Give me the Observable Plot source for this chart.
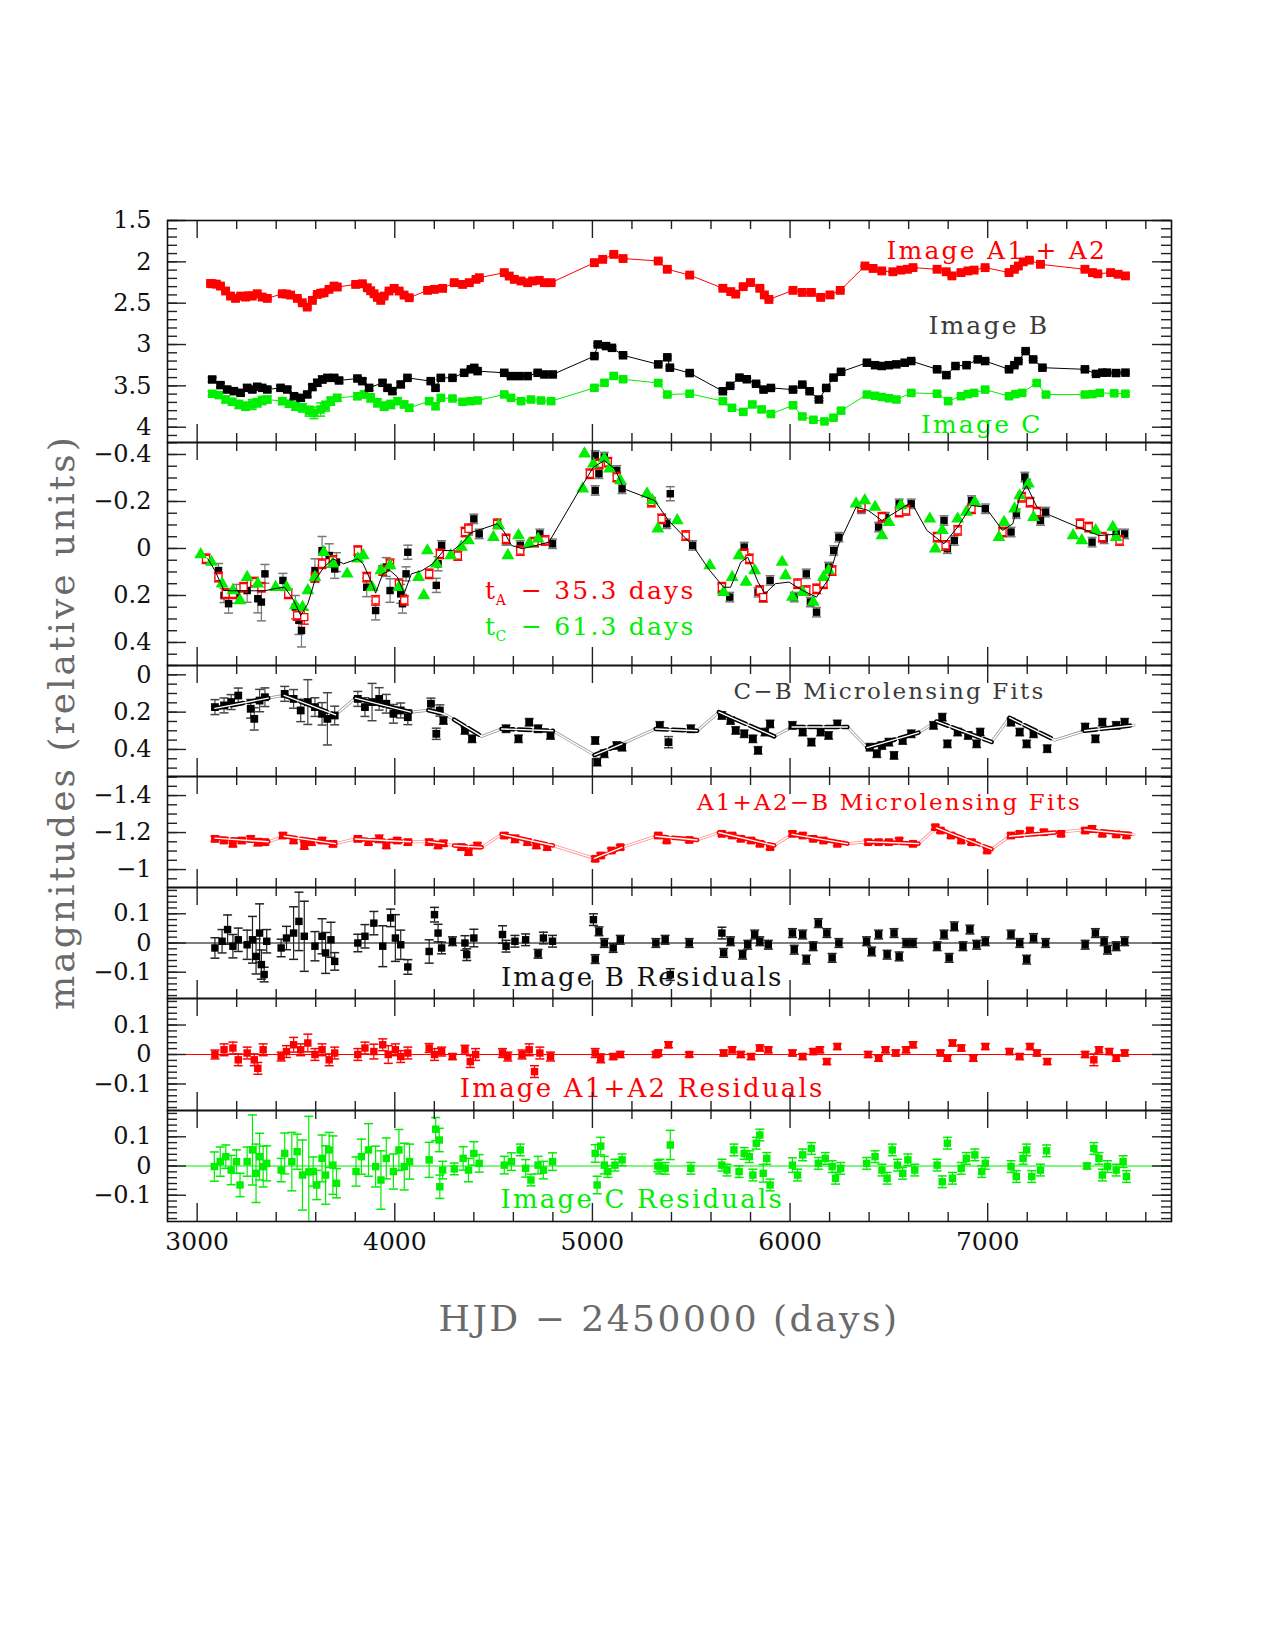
<!DOCTYPE html>
<html><head><meta charset="utf-8">
<script src="https://cdn.jsdelivr.net/npm/d3@7"></script>
<script src="https://cdn.jsdelivr.net/npm/@observablehq/plot@0.6"></script>
<style>
body{margin:0;background:#fff;}
#fig{position:relative;width:1275px;height:1650px;background:#fff;}
#fig svg{position:absolute;left:0;}
.title{position:absolute;font-family:"DejaVu Serif";color:#6a6a6a;white-space:nowrap;}
</style></head><body><div id="fig"></div>
<script>
// ---------------- DATA ----------------
const xMajorTicks = [3000, 4000, 5000, 6000, 7000];
const yTicks1 = [1.5, 2, 2.5, 3, 3.5, 4];
const yTicks2 = [-0.4, -0.2, 0, 0.2, 0.4];
const yTicks3 = [0, 0.2, 0.4];
const yTicks4 = [-1.4, -1.2, -1];
const yTicksRes = [-0.1, 0, 0.1];

// Panel 1: light curves [HJD-2450000, mag, err]
const imageA = [[3068,2.262,.012],[3076,2.265,.012],[3097,2.27,.012],[3118,2.293,.012],[3144,2.353,.012],[3169,2.414,.012],[3194,2.442,.012],[3220,2.414,.012],[3245,2.426,.012],[3262,2.41,.012],[3279,2.414,.012],[3304,2.386,.012],[3329,2.426,.012],[3355,2.442,.012],[3431,2.386,.012],[3452,2.39,.012],[3473,2.402,.012],[3507,2.442,.012],[3532,2.495,.012],[3557,2.547,.015],[3583,2.466,.012],[3608,2.394,.012],[3625,2.38,.012],[3642,2.374,.012],[3667,2.333,.012],[3693,2.293,.012],[3709,2.305,.012],[3802,2.273,.012],[3836,2.265,.012],[3861,2.313,.012],[3878,2.35,.012],[3895,2.386,.012],[3912,2.43,.012],[3929,2.466,.012],[3946,2.414,.012],[3971,2.353,.012],[3997,2.321,.012],[4022,2.353,.012],[4047,2.402,.012],[4073,2.434,.012],[4166,2.345,.012],[4200,2.333,.012],[4242,2.321,.012],[4301,2.252,.01],[4343,2.273,.01],[4377,2.252,.01],[4411,2.212,.01],[4428,2.192,.01],[4554,2.131,.01],[4579,2.172,.01],[4605,2.212,.01],[4639,2.232,.01],[4672,2.252,.01],[4697,2.232,.01],[4731,2.224,.01],[4757,2.252,.01],[4791,2.252,.01],[5010,2.01,.01],[5052,1.97,.01],[5108,1.91,.01],[5155,1.96,.01],[5333,1.99,.01],[5379,2.09,.01],[5492,2.16,.01],[5660,2.32,.01],[5700,2.36,.01],[5725,2.39,.01],[5763,2.3,.01],[5800,2.25,.01],[5847,2.32,.01],[5870,2.4,.01],[5893,2.455,.01],[6015,2.345,.01],[6062,2.37,.01],[6108,2.37,.01],[6155,2.43,.01],[6202,2.4,.01],[6254,2.345,.01],[6379,2.05,.01],[6420,2.08,.01],[6464,2.11,.01],[6520,2.12,.01],[6560,2.1,.01],[6594,2.09,.01],[6622,2.07,.01],[6744,2.09,.01],[6790,2.12,.01],[6819,2.17,.01],[6865,2.13,.01],[6900,2.11,.01],[6931,2.1,.01],[6987,2.07,.01],[7108,2.13,.01],[7135,2.09,.01],[7155,2.05,.01],[7180,2.0,.01],[7211,1.98,.01],[7267,2.03,.01],[7492,2.09,.01],[7530,2.13,.01],[7557,2.145,.01],[7622,2.13,.01],[7660,2.15,.01],[7697,2.17,.01]];
const imageB = [[3076,3.423,.025],[3118,3.491,.025],[3152,3.544,.025],[3186,3.564,.025],[3220,3.584,.03],[3253,3.524,.03],[3279,3.544,.03],[3304,3.511,.03],[3329,3.524,.03],[3355,3.544,.025],[3422,3.524,.025],[3456,3.544,.025],[3490,3.625,.03],[3524,3.645,.03],[3557,3.604,.03],[3583,3.515,.03],[3608,3.463,.04],[3633,3.423,.04],[3659,3.403,.03],[3693,3.403,.03],[3718,3.435,.025],[3811,3.411,.025],[3836,3.443,.03],[3870,3.524,.03],[3938,3.463,.03],[3963,3.524,.025],[3988,3.564,.025],[4030,3.483,.025],[4064,3.403,.02],[4182,3.443,.02],[4206,3.524,.02],[4233,3.403,.02],[4292,3.403,.015],[4351,3.342,.015],[4385,3.3,.015],[4402,3.282,.015],[4419,3.322,.015],[4554,3.342,.015],[4588,3.382,.015],[4630,3.382,.015],[4672,3.382,.015],[4723,3.342,.015],[4757,3.362,.015],[4799,3.362,.015],[5010,3.14,.015],[5027,2.999,.015],[5069,3.019,.015],[5099,3.04,.015],[5155,3.13,.015],[5333,3.24,.015],[5379,3.155,.015],[5392,3.28,.015],[5492,3.345,.015],[5660,3.565,.015],[5697,3.5,.015],[5744,3.4,.015],[5781,3.42,.015],[5828,3.475,.015],[5866,3.545,.015],[5903,3.525,.015],[6015,3.545,.015],[6062,3.485,.015],[6099,3.565,.015],[6146,3.665,.015],[6183,3.525,.015],[6220,3.4,.015],[6258,3.33,.015],[6389,3.22,.015],[6430,3.25,.015],[6464,3.26,.015],[6500,3.25,.015],[6538,3.24,.015],[6580,3.22,.015],[6613,3.2,.015],[6744,3.3,.015],[6791,3.37,.015],[6837,3.26,.015],[6893,3.25,.015],[6950,3.18,.015],[6987,3.2,.015],[7108,3.3,.015],[7135,3.25,.015],[7155,3.2,.015],[7192,3.08,.015],[7230,3.18,.015],[7277,3.28,.015],[7492,3.3,.015],[7548,3.355,.015],[7580,3.34,.015],[7604,3.34,.015],[7650,3.345,.015],[7697,3.34,.015]];
const imageC = [[3076,3.596,.03],[3110,3.612,.03],[3144,3.665,.04],[3177,3.693,.04],[3211,3.725,.05],[3245,3.746,.05],[3279,3.725,.06],[3304,3.705,.05],[3329,3.677,.05],[3355,3.665,.04],[3431,3.685,.04],[3465,3.717,.04],[3498,3.746,.05],[3532,3.766,.05],[3566,3.806,.06],[3591,3.826,.07],[3625,3.786,.08],[3650,3.746,.06],[3676,3.685,.05],[3709,3.645,.04],[3811,3.625,.04],[3845,3.604,.04],[3878,3.645,.05],[3912,3.705,.05],[3946,3.746,.05],[3980,3.725,.05],[4014,3.685,.04],[4047,3.725,.04],[4073,3.766,.04],[4174,3.685,.03],[4206,3.746,.04],[4233,3.645,.03],[4292,3.653,.02],[4343,3.693,.02],[4385,3.685,.02],[4419,3.677,.02],[4554,3.604,.02],[4588,3.645,.02],[4639,3.685,.02],[4689,3.665,.02],[4740,3.677,.02],[4791,3.685,.02],[5010,3.524,.02],[5061,3.463,.02],[5108,3.38,.02],[5155,3.42,.02],[5333,3.465,.02],[5379,3.605,.02],[5492,3.595,.02],[5660,3.685,.02],[5706,3.765,.02],[5763,3.815,.02],[5809,3.725,.02],[5856,3.785,.02],[5903,3.84,.02],[6015,3.735,.02],[6062,3.87,.02],[6118,3.91,.02],[6174,3.93,.02],[6220,3.885,.02],[6258,3.8,.02],[6389,3.605,.02],[6430,3.62,.02],[6464,3.635,.02],[6500,3.65,.02],[6538,3.665,.02],[6613,3.585,.02],[6744,3.595,.02],[6800,3.685,.02],[6865,3.625,.02],[6900,3.6,.02],[6931,3.585,.02],[6987,3.545,.02],[7108,3.625,.02],[7140,3.6,.02],[7174,3.585,.02],[7248,3.465,.02],[7295,3.605,.02],[7492,3.605,.02],[7530,3.6,.02],[7567,3.585,.02],[7640,3.59,.02],[7697,3.595,.02]];

// Panel 2: shifted, microlensing-corrected curves [day, relative mag, err]
const shiftB = [[3108,0.094,.03],[3136,0.2,.03],[3159,0.235,.04],[3199,0.193,.04],[3253,0.179,.05],[3307,0.214,.06],[3325,0.228,.08],[3343,0.108,.04],[3434,0.136,.03],[3497,0.25,.05],[3515,0.306,.06],[3528,0.349,.07],[3596,0.094,.05],[3632,0.009,.06],[3668,0.03,.05],[3696,0.087,.04],[3705,0.058,.04],[3813,0.023,.03],[3858,0.165,.04],[3903,0.264,.04],[3957,0.079,.04],[3976,0.179,.05],[4030,0.193,.04],[4039,0.235,.04],[4057,0.108,.03],[4066,0.016,.03],[4210,0.157,.03],[4219,0.065,.03],[4237,-0.013,.02],[4373,-0.077,.02],[4400,-0.126,.02],[4427,-0.062,.02],[4563,-0.034,.02],[4635,-0.013,.02],[4734,-0.062,.02],[4798,-0.02,.02],[5014,-0.396,.02],[5033,-0.318,.02],[5014,-0.247,.02],[5060,-0.389,.02],[5123,-0.332,.02],[5150,-0.254,.02],[5376,-0.105,.02],[5394,-0.233,.03],[5507,-0.013,.02],[5655,0.172,.02],[5695,0.207,.02],[5768,-0.006,.02],[5838,0.186,.02],[5864,0.207,.02],[5899,0.136,.02],[6021,0.207,.02],[6082,0.108,.02],[6103,0.228,.02],[6134,0.271,.02],[6195,0.079,.02],[6221,0.009,.02],[6247,-0.048,.02],[6361,-0.169,.02],[6448,-0.091,.02],[6483,-0.133,.02],[6552,-0.19,.02],[6613,-0.19,.02],[6779,-0.119,.02],[6796,0.001,.02],[6831,-0.034,.02],[6918,-0.204,.02],[6988,-0.169,.02],[7118,-0.07,.02],[7145,-0.148,.02],[7188,-0.304,.02],[7197,-0.275,.02],[7267,-0.119,.02],[7293,-0.155,.02],[7528,-0.027,.02],[7589,-0.041,.02],[7650,-0.062,.02],[7693,-0.062,.02]];
const shiftA = [[3045,0.044,.02],[3108,0.122,.02],[3145,0.193,.02],[3181,0.193,.02],[3235,0.165,.02],[3289,0.143,.02],[3325,0.165,.02],[3461,0.193,.02],[3506,0.285,.02],[3542,0.292,.03],[3596,0.122,.02],[3632,0.065,.02],[3687,0.051,.02],[3813,0.009,.02],[3858,0.122,.02],[3903,0.221,.02],[3939,0.094,.02],[3976,0.065,.02],[4021,0.15,.02],[4048,0.221,.02],[4174,0.108,.02],[4228,0.023,.02],[4319,0.03,.02],[4355,-0.07,.02],[4373,-0.084,.02],[4518,-0.105,.02],[4563,-0.041,.02],[4635,0.009,.02],[4707,-0.027,.02],[4761,-0.034,.02],[4987,-0.318,.02],[5033,-0.36,.02],[5078,-0.367,.02],[5123,-0.304,.02],[5298,-0.197,.02],[5350,-0.126,.02],[5472,-0.055,.02],[5655,0.165,.02],[5768,0.023,.02],[5794,0.044,.02],[5847,0.179,.02],[5864,0.207,.02],[6038,0.15,.02],[6082,0.179,.02],[6134,0.172,.02],[6169,0.15,.02],[6213,0.094,.02],[6361,-0.176,.02],[6465,-0.133,.02],[6552,-0.155,.02],[6587,-0.162,.02],[6744,-0.048,.02],[6787,-0.013,.02],[6848,-0.077,.02],[6918,-0.169,.02],[7075,-0.07,.02],[7171,-0.218,.02],[7214,-0.197,.02],[7249,-0.155,.02],[7467,-0.105,.02],[7511,-0.091,.02],[7580,-0.048,.02],[7667,-0.034,.02]];
const shiftC = [[3018,0.026],[3072,0.058],[3126,0.15],[3181,0.179],[3217,0.221],[3253,0.122],[3307,0.15],[3397,0.165],[3452,0.165],[3497,0.243],[3533,0.25],[3560,0.179],[3596,0.122],[3641,0.016],[3687,0.065],[3759,0.108],[3813,0.044],[3840,0.03],[3885,0.165],[3930,0.094],[3976,0.072],[4021,0.165],[4120,0.122],[4147,0.2],[4165,0.009],[4210,0.065],[4283,0.03],[4337,-0.006],[4373,-0.034],[4499,-0.048],[4526,-0.098],[4572,0.03],[4626,-0.055],[4680,-0.02],[4725,-0.041],[4960,-0.403],[4951,-0.254],[5005,-0.36],[5060,-0.382],[5087,-0.339],[5141,-0.289],[5276,-0.233],[5303,-0.204],[5331,-0.084],[5429,-0.119],[5594,0.072],[5664,0.186],[5707,0.122],[5742,0.03],[5777,0.143],[5821,0.094],[5960,0.058],[5977,0.115],[6012,0.207],[6064,0.186],[6117,0.228],[6169,0.122],[6195,0.094],[6334,-0.19],[6378,-0.204],[6430,-0.176],[6465,-0.055],[6500,-0.112],[6561,-0.183],[6707,-0.126],[6735,0.001],[6770,-0.077],[6848,-0.126],[6892,-0.155],[6935,-0.197],[7057,-0.048],[7083,-0.112],[7136,-0.169],[7162,-0.225],[7206,-0.275],[7232,-0.133],[7432,-0.055],[7476,-0.034],[7546,-0.077],[7633,-0.091],[7650,-0.048]];
const sourceModel = [[3054,0.044],[3090,0.094],[3136,0.179],[3172,0.18],[3235,0.18],[3289,0.18],[3343,0.18],[3397,0.17],[3443,0.165],[3488,0.22],[3524,0.285],[3560,0.235],[3596,0.136],[3641,0.08],[3687,0.044],[3741,0.065],[3813,0.044],[3840,0.065],[3885,0.15],[3903,0.19],[3939,0.108],[3976,0.094],[4012,0.12],[4048,0.19],[4084,0.108],[4138,0.094],[4192,0.065],[4247,0.009],[4292,0.009],[4337,-0.02],[4391,-0.07],[4445,-0.084],[4518,-0.105],[4554,-0.07],[4590,-0.013],[4644,0.001],[4716,-0.013],[4780,-0.027],[4933,-0.247],[5005,-0.346],[5060,-0.374],[5114,-0.339],[5159,-0.254],[5246,-0.226],[5315,-0.204],[5385,-0.119],[5507,-0.013],[5594,0.094],[5664,0.165],[5699,0.165],[5751,0.058],[5786,0.037],[5838,0.143],[5873,0.193],[5925,0.15],[5995,0.143],[6064,0.179],[6134,0.207],[6195,0.129],[6247,-0.02],[6334,-0.176],[6395,-0.162],[6465,-0.119],[6535,-0.155],[6613,-0.197],[6692,-0.077],[6779,-0.02],[6848,-0.091],[6918,-0.183],[6988,-0.176],[7075,-0.077],[7127,-0.105],[7162,-0.218],[7197,-0.268],[7249,-0.176],[7319,-0.14],[7476,-0.084],[7563,-0.055],[7667,-0.062]];

// Panel 3: C-B microlensing [day, mag, err] and season fits [day, mag, season]
const microCB = [[3090,0.173,.04],[3136,0.164,.04],[3172,0.146,.04],[3208,0.111,.04],[3271,0.182,.05],[3289,0.236,.06],[3316,0.138,.06],[3343,0.12,.05],[3443,0.102,.04],[3488,0.129,.05],[3524,0.191,.06],[3560,0.146,.12],[3596,0.173,.05],[3632,0.209,.06],[3659,0.236,.14],[3696,0.218,.05],[3813,0.129,.04],[3849,0.173,.05],[3885,0.146,.1],[3921,0.129,.06],[3957,0.155,.05],[3993,0.209,.05],[4030,0.191,.04],[4066,0.227,.04],[4183,0.155,.03],[4210,0.316,.03],[4228,0.191,.03],[4246,0.245,.02],[4355,0.298,.02],[4391,0.343,.02],[4563,0.289,.02],[4626,0.343,.02],[4680,0.254,.02],[4725,0.289,.02],[4788,0.325,.02],[5014,0.352,.02],[5024,0.468,.02],[5060,0.423,.02],[5123,0.379,.02],[5150,0.388,.02],[5341,0.271,.02],[5385,0.361,.03],[5498,0.289,.02],[5655,0.218,.02],[5699,0.245,.02],[5725,0.298,.02],[5768,0.316,.02],[5812,0.343,.02],[5838,0.405,.02],[5873,0.307,.02],[5899,0.263,.02],[6012,0.271,.02],[6064,0.307,.02],[6108,0.361,.02],[6155,0.307,.02],[6195,0.325,.02],[6239,0.263,.02],[6404,0.388,.02],[6439,0.423,.02],[6465,0.379,.02],[6500,0.361,.02],[6526,0.432,.02],[6570,0.352,.02],[6613,0.316,.02],[6726,0.271,.02],[6770,0.227,.02],[6796,0.37,.02],[6848,0.307,.02],[6901,0.325,.02],[6944,0.37,.02],[6962,0.307,.02],[7118,0.254,.02],[7162,0.307,.02],[7197,0.37,.02],[7232,0.316,.02],[7301,0.396,.02],[7493,0.28,.02],[7545,0.343,.02],[7580,0.254,.02],[7650,0.271,.02],[7693,0.254,.02]];
const fitCB = [[3090,0.18,1],[3360,0.125,1],[3440,0.11,2],[3700,0.215,2],[3800,0.125,3],[4080,0.2,3],[4170,0.19,4],[4250,0.21,4],[4300,0.24,5],[4440,0.33,5],[4540,0.29,6],[4800,0.3,6],[5010,0.43,7],[5150,0.37,7],[5320,0.29,8],[5530,0.3,8],[5640,0.2,9],[5920,0.33,9],[6010,0.28,10],[6290,0.28,10],[6390,0.39,11],[6650,0.31,11],[6740,0.25,12],[7020,0.36,12],[7110,0.23,13],[7340,0.35,13],[7490,0.3,14],[7740,0.27,14]];

// Panel 4: A1+A2-B microlensing
const microAB = [[3090,-1.166,.015],[3136,-1.157,.015],[3181,-1.139,.015],[3226,-1.157,.015],[3271,-1.166,.015],[3307,-1.148,.02],[3343,-1.148,.015],[3434,-1.184,.015],[3488,-1.157,.015],[3542,-1.13,.02],[3578,-1.148,.015],[3632,-1.157,.015],[3687,-1.139,.015],[3813,-1.166,.015],[3867,-1.148,.015],[3921,-1.166,.02],[3957,-1.13,.015],[4012,-1.157,.015],[4066,-1.148,.015],[4174,-1.148,.015],[4219,-1.13,.015],[4246,-1.142,.015],[4337,-1.121,.015],[4373,-1.094,.015],[4418,-1.13,.015],[4554,-1.184,.015],[4608,-1.166,.02],[4671,-1.148,.015],[4716,-1.13,.015],[4771,-1.121,.015],[5014,-1.058,.012],[5042,-1.076,.012],[5096,-1.103,.012],[5141,-1.121,.012],[5333,-1.184,.012],[5376,-1.157,.012],[5490,-1.16,.012],[5655,-1.193,.012],[5707,-1.184,.012],[5751,-1.166,.012],[5803,-1.157,.012],[5847,-1.139,.012],[5899,-1.121,.012],[6012,-1.193,.012],[6064,-1.184,.012],[6117,-1.166,.012],[6169,-1.157,.012],[6239,-1.139,.012],[6395,-1.148,.012],[6448,-1.148,.012],[6500,-1.148,.012],[6552,-1.157,.012],[6622,-1.139,.012],[6735,-1.229,.012],[6761,-1.211,.012],[6814,-1.184,.012],[6866,-1.157,.012],[6918,-1.148,.012],[6997,-1.103,.012],[7118,-1.184,.012],[7162,-1.193,.012],[7214,-1.211,.012],[7284,-1.202,.012],[7371,-1.193,.012],[7493,-1.211,.012],[7528,-1.22,.015],[7580,-1.193,.012],[7650,-1.19,.012],[7702,-1.184,.012]];
const fitAB = [[3090,-1.17,1],[3360,-1.15,1],[3440,-1.18,2],[3700,-1.14,2],[3800,-1.165,3],[4080,-1.15,3],[4170,-1.15,4],[4250,-1.14,4],[4300,-1.13,5],[4440,-1.12,5],[4540,-1.19,6],[4800,-1.13,6],[5010,-1.06,7],[5150,-1.12,7],[5320,-1.18,8],[5530,-1.16,8],[5640,-1.2,9],[5920,-1.13,9],[6010,-1.19,10],[6290,-1.14,10],[6390,-1.15,11],[6650,-1.14,11],[6740,-1.225,12],[7020,-1.11,12],[7110,-1.18,13],[7340,-1.2,13],[7490,-1.215,14],[7740,-1.19,14]];

// Panels 5-7: residuals [day, residual, err]
const residB = [[3090,-0.017,.035],[3126,0.006,.04],[3154,0.046,.05],[3181,-0.011,.04],[3208,0.011,.04],[3253,-0.006,.05],[3280,0.011,.08],[3298,-0.046,.06],[3316,0.034,.1],[3325,-0.074,.05],[3339,-0.108,.025],[3352,0.006,.04],[3425,-0.017,.03],[3452,0.017,.04],[3488,0.034,.09],[3515,0.074,.1],[3542,0.023,.12],[3596,-0.011,.05],[3632,0.023,.06],[3650,-0.034,.07],[3677,0.011,.06],[3696,-0.063,.03],[3813,0,.03],[3849,0.023,.04],[3894,0.068,.04],[3939,-0.011,.07],[3979,0.086,.03],[4003,0.017,.08],[4030,-0.006,.05],[4066,-0.082,.025],[4174,-0.029,.04],[4201,0.097,.025],[4219,0.034,.03],[4237,-0.017,.02],[4292,0.006,.015],[4355,0,.025],[4364,-0.04,.02],[4400,0.017,.03],[4545,0.029,.03],[4563,-0.011,.02],[4608,0.006,.02],[4662,0.011,.02],[4725,-0.037,.015],[4752,0.017,.02],[4798,0.006,.02],[5005,0.08,.02],[5033,0.04,.015],[5014,-0.055,.015],[5060,0,.015],[5105,-0.017,.015],[5141,0.011,.015],[5321,0,.015],[5368,0.011,.015],[5394,-0.108,.02],[5490,0,.015],[5655,0.034,.02],[5664,-0.034,.015],[5699,0.006,.015],[5760,-0.04,.015],[5786,-0.006,.015],[5821,0.029,.015],[5847,0.006,.015],[5890,-0.006,.015],[6012,0.034,.015],[6021,-0.023,.015],[6064,0.029,.015],[6082,-0.057,.015],[6117,-0.011,.015],[6143,0.068,.015],[6186,0.034,.015],[6213,-0.051,.015],[6247,0,.015],[6387,0.006,.015],[6413,-0.029,.015],[6448,0.029,.015],[6491,-0.04,.015],[6526,0.034,.015],[6552,-0.046,.015],[6587,0,.015],[6622,0,.015],[6744,-0.011,.015],[6779,0.029,.015],[6805,-0.051,.015],[6831,0.057,.015],[6875,-0.011,.015],[6910,0.046,.015],[6944,-0.006,.015],[6988,0.006,.015],[7118,0.029,.015],[7162,0,.015],[7197,-0.057,.015],[7232,0.017,.015],[7293,0,.015],[7493,-0.006,.015],[7545,0.034,.015],[7589,0.006,.015],[7606,-0.023,.015],[7650,-0.011,.015],[7693,0.006,.015]];
const residA = [[3090,0,.015],[3136,0.016,.02],[3181,0.022,.02],[3208,-0.018,.02],[3253,0.005,.02],[3289,-0.018,.02],[3307,-0.047,.02],[3334,0.016,.02],[3425,-0.007,.015],[3452,0.01,.02],[3488,0.033,.025],[3524,0.016,.02],[3560,0.039,.03],[3596,0,.02],[3632,0.016,.02],[3668,-0.018,.02],[3696,0.005,.02],[3813,0,.02],[3849,0.022,.02],[3894,0.01,.025],[3939,0.033,.02],[3967,0,.03],[4003,0.016,.02],[4030,-0.007,.02],[4066,0.005,.02],[4174,0.022,.015],[4201,0,.02],[4237,0.01,.015],[4292,-0.007,.01],[4355,0.016,.015],[4382,-0.024,.02],[4409,0,.02],[4545,0.005,.015],[4572,-0.007,.015],[4644,0,.015],[4680,0.016,.02],[4707,-0.058,.02],[4734,0.005,.02],[4788,-0.007,.015],[5014,0.005,.015],[5042,-0.013,.015],[5105,-0.007,.01],[5141,0,.01],[5321,0,.01],[5333,0.005,.01],[5385,0.033,.01],[5490,0,.008],[5664,0.005,.01],[5707,0.016,.01],[5751,0,.01],[5803,-0.007,.01],[5847,0.022,.01],[5890,0.016,.01],[6012,0.005,.01],[6064,-0.007,.01],[6117,0.01,.01],[6151,0.016,.01],[6186,-0.024,.01],[6239,0.027,.01],[6395,0,.01],[6448,-0.013,.01],[6483,0.016,.01],[6535,0.005,.01],[6587,0.016,.01],[6622,0.033,.01],[6761,0.005,.01],[6796,-0.013,.01],[6822,0.039,.01],[6866,0.022,.01],[6927,-0.013,.01],[6988,0.027,.01],[7110,0.01,.01],[7162,-0.007,.01],[7214,0.027,.01],[7249,0.005,.01],[7301,-0.024,.01],[7493,0,.01],[7537,-0.018,.02],[7563,0.016,.01],[7615,0.01,.01],[7650,-0.013,.01],[7693,0.005,.01]];
const residC = [[3087,-0.002,.05],[3117,0.015,.05],[3145,0.032,.04],[3172,-0.014,.05],[3199,0.015,.04],[3217,-0.065,.04],[3253,0.015,.05],[3280,0.055,.12],[3298,-0.025,.1],[3316,0.032,.08],[3334,-0.002,.07],[3352,0.009,.06],[3425,-0.014,.04],[3443,0.043,.07],[3479,0.015,.1],[3506,0.049,.06],[3533,-0.031,.12],[3565,-0.02,.19],[3587,-0.019,.05],[3605,-0.065,.05],[3632,0.026,.08],[3650,-0.031,.1],[3668,0.055,.06],[3687,0.003,.1],[3705,-0.059,.05],[3804,-0.019,.05],[3831,0.032,.06],[3867,0.055,.09],[3903,-0.002,.07],[3930,-0.048,.1],[3957,0.026,.07],[3993,-0.019,.06],[4021,0.055,.07],[4048,-0.002,.08],[4075,0.015,.06],[4174,0.021,.06],[4207,0.126,.04],[4225,0.089,.04],[4228,-0.071,.04],[4242,-0.014,.03],[4301,-0.01,.02],[4346,0.026,.04],[4373,-0.014,.04],[4400,0.043,.04],[4427,0.009,.03],[4554,0.003,.03],[4590,0.015,.03],[4635,0.055,.02],[4662,-0.008,.03],[4689,-0.048,.02],[4725,0.003,.03],[4752,-0.014,.03],[4798,0.015,.03],[5014,0.043,.03],[5024,-0.065,.03],[5042,0.068,.03],[5060,0.003,.03],[5078,-0.019,.02],[5114,0.003,.02],[5150,0.021,.02],[5331,0,.02],[5341,-0.002,.025],[5368,-0.008,.02],[5394,0.072,.05],[5498,-0.008,.02],[5655,0.003,.02],[5681,-0.014,.02],[5716,0.055,.02],[5742,-0.019,.02],[5768,0.043,.02],[5794,0.032,.02],[5812,-0.031,.02],[5829,0.078,.02],[5847,0.106,.02],[5864,-0.025,.03],[5882,0.026,.02],[5899,-0.065,.02],[6012,0.003,.025],[6038,-0.031,.02],[6064,0.038,.02],[6108,0.06,.02],[6143,0.009,.02],[6178,0.026,.02],[6213,-0.002,.02],[6230,-0.042,.02],[6256,-0.008,.02],[6387,0.009,.02],[6430,0.032,.02],[6465,-0.014,.02],[6491,-0.042,.02],[6517,0.055,.02],[6544,0.003,.02],[6570,-0.025,.02],[6596,0.021,.02],[6631,-0.014,.02],[6744,0.003,.02],[6770,-0.054,.02],[6796,0.078,.02],[6822,-0.042,.02],[6866,-0.008,.02],[6892,0.026,.02],[6935,0.038,.02],[6970,-0.019,.02],[6988,0.009,.02],[7118,-0.002,.02],[7145,-0.036,.02],[7179,0.026,.02],[7197,0.055,.02],[7223,-0.036,.02],[7267,-0.014,.02],[7298,0.052,.02],[7502,0,.01],[7537,0.06,.02],[7563,0.026,.02],[7580,-0.031,.02],[7606,-0.002,.02],[7650,-0.014,.02],[7685,0.015,.02],[7702,-0.036,.02]];

// Annotation texts
const annotations = ["Image A1 + A2", "Image B", "Image C", "\u2212 35.3 days", "\u2212 61.3 days",
  "C\u2212B Microlensing Fits", "A1+A2\u2212B Microlensing Fits", "Image B Residuals", "Image A1+A2 Residuals", "Image C Residuals"];

// ---------------- DRAWING ----------------
const RED = "#ff0000", GREEN = "#00ee00", BLACK = "#000000";
const FONT = "DejaVu Serif";
const W = 1275, ML = 167, MR = 104, IW = W - ML - MR;
const X_DOMAIN = [2850, 7930];
const fig = document.getElementById("fig");
const cap = {draw(ctx) { ctx.moveTo(-4.5, 0); ctx.lineTo(4.5, 0); }};
const fmt = d => (d < 0 ? "\u2212" : "") + Math.abs(d);
const steps = (a, b, s) => d3.range(Math.ceil(a / s - 1e-6), Math.floor(b / s + 1e-6) + 1).map(k => +(k * s).toFixed(4));
const annotSet = new Set(annotations);

function frameMarks(h, yDomain, yMajor, yMinorStep) {
  const lo = Math.min(...yDomain), hi = Math.max(...yDomain);
  const xMinor = steps(2850, 7930, 200).filter(d => d % 1000 !== 0);
  const yMinor = steps(lo, hi, yMinorStep);
  const tk = {stroke: "#222", strokeWidth: 1.4};
  return [
    Plot.tickX(xMajorTicks, {x: d => d, insetTop: h - 18, ...tk}),
    Plot.tickX(xMajorTicks, {x: d => d, insetBottom: h - 18, ...tk}),
    Plot.tickX(xMinor, {x: d => d, insetTop: h - 9, ...tk}),
    Plot.tickX(xMinor, {x: d => d, insetBottom: h - 9, ...tk}),
    Plot.tickY(yMinor, {y: d => d, insetRight: IW - 10, ...tk}),
    Plot.tickY(yMinor, {y: d => d, insetLeft: IW - 10, ...tk}),
    Plot.tickY(yMajor, {y: d => d, insetRight: IW - 19, ...tk}),
    Plot.tickY(yMajor, {y: d => d, insetLeft: IW - 19, ...tk}),
    Plot.text(yMajor, {y: d => d, text: fmt, frameAnchor: "left", textAnchor: "end", dx: -16, fontSize: 24, fontFamily: FONT, fill: "#111"}),
    Plot.frame({stroke: "#111", strokeWidth: 1.6})
  ];
}

function errMarks(data, color, opt = {}) {
  const bar = opt.bar || color;
  const out = [];
  if (data[0].length > 2) {
    out.push(Plot.ruleX(data, {x: d => d[0], y1: d => d[1] - d[2], y2: d => d[1] + d[2], stroke: bar, strokeWidth: 1.2, clip: true}));
    out.push(Plot.dot(data, {x: d => d[0], y: d => d[1] - d[2], symbol: cap, fill: "none", stroke: bar, strokeWidth: 1.5, clip: true}));
    out.push(Plot.dot(data, {x: d => d[0], y: d => d[1] + d[2], symbol: cap, fill: "none", stroke: bar, strokeWidth: 1.5, clip: true}));
  }
  out.push(Plot.dot(data, {x: d => d[0], y: d => d[1], symbol: opt.symbol || "square", r: opt.r || 4,
    fill: opt.open ? "white" : color, stroke: opt.open ? color : "none", strokeWidth: 1.3, clip: true}));
  return out;
}

function panel(top, h, yDomain, yMajor, yMinorStep, marks, mb = 20) {
  const mt = 20;
  const svg = Plot.plot({
    width: W, height: h + mt + mb, marginLeft: ML, marginRight: MR, marginTop: mt, marginBottom: mb,
    x: {domain: X_DOMAIN, axis: null},
    y: {domain: yDomain, axis: null},
    style: {background: "transparent", overflow: "visible", fontFamily: FONT},
    marks: [...marks, ...frameMarks(h, yDomain, yMajor, yMinorStep)]
  });
  svg.style.top = (top - mt) + "px";
  fig.appendChild(svg);
  d3.select(svg).selectAll("text").filter(function() { return annotSet.has(this.textContent); })
    .attr("letter-spacing", "2.2").style("letter-spacing", "2.2px");
}

const lbl = (text, x, y, fill, size, anchor = "middle", dx = 0) =>
  Plot.text([text], {x: () => x, y: () => y, text: d => d, dx, fill, fontSize: size, fontFamily: FONT, textAnchor: anchor});

// Panel 1
panel(220, 222, [4.185, 1.5], yTicks1, 0.1, [
  Plot.line(imageA, {x: d => d[0], y: d => d[1], stroke: RED, strokeWidth: 1}),
  Plot.line(imageB, {x: d => d[0], y: d => d[1], stroke: BLACK, strokeWidth: 1}),
  Plot.line(imageC, {x: d => d[0], y: d => d[1], stroke: GREEN, strokeWidth: 1}),
  ...errMarks(imageC, GREEN, {r: 4.8}),
  ...errMarks(imageB, BLACK, {r: 4.8, bar: "#333"}),
  ...errMarks(imageA, RED, {r: 5}),
  lbl(annotations[0], 7046, 1.87, RED, 25),
  lbl(annotations[1], 7006, 2.775, "#3a3a3a", 25),
  lbl(annotations[2], 6970, 3.975, GREEN, 25)
]);

// Panel 2
panel(442, 223, [0.498, -0.451], yTicks2, 0.05, [
  ...errMarks(shiftB, BLACK, {r: 4.2, bar: "#777"}),
  ...errMarks(shiftA, RED, {r: 4, open: true}),
  ...errMarks(shiftC, GREEN, {symbol: "triangle", r: 4.8}),
  Plot.line(sourceModel, {x: d => d[0], y: d => d[1], stroke: BLACK, strokeWidth: 1}),
  lbl("t", 4456, 0.183, RED, 25, "start"),
  Plot.text(["A"], {x: () => 4456, y: () => 0.183, text: d => d, dx: 16, dy: 9, fill: RED, fontSize: 14, fontFamily: FONT}),
  lbl(annotations[3], 4456, 0.183, RED, 25, "start", 36),
  lbl("t", 4456, 0.336, GREEN, 25, "start"),
  Plot.text(["C"], {x: () => 4456, y: () => 0.336, text: d => d, dx: 16, dy: 9, fill: GREEN, fontSize: 14, fontFamily: FONT}),
  lbl(annotations[4], 4456, 0.336, GREEN, 25, "start", 36)
]);

// Panel 3
panel(665, 111, [0.545, -0.05], yTicks3, 0.05, [
  Plot.line(fitCB, {x: d => d[0], y: d => d[1], stroke: "#999", strokeWidth: 3}),
  Plot.line(fitCB, {x: d => d[0], y: d => d[1], stroke: "white", strokeWidth: 1.4}),
  ...errMarks(microCB, BLACK, {r: 4.4, bar: "#444"}),
  Plot.line(fitCB, {x: d => d[0], y: d => d[1], z: d => d[2], stroke: BLACK, strokeWidth: 4.5, strokeDasharray: "12,5"}),
  Plot.line(fitCB, {x: d => d[0], y: d => d[1], z: d => d[2], stroke: "white", strokeWidth: 1.4}),
  lbl(annotations[5], 6503, 0.089, "#3a3a3a", 23)
]);

// Panel 4
panel(776, 111, [-0.903, -1.503], yTicks4, 0.05, [
  Plot.line(fitAB, {x: d => d[0], y: d => d[1], stroke: "#ff9090", strokeWidth: 3}),
  Plot.line(fitAB, {x: d => d[0], y: d => d[1], stroke: "white", strokeWidth: 1.4}),
  ...errMarks(microAB, RED, {r: 4.4}),
  Plot.line(fitAB, {x: d => d[0], y: d => d[1], z: d => d[2], stroke: RED, strokeWidth: 4.5, strokeDasharray: "12,5"}),
  Plot.line(fitAB, {x: d => d[0], y: d => d[1], z: d => d[2], stroke: "white", strokeWidth: 1.4}),
  lbl(annotations[6], 6503, -1.362, RED, 23)
]);

// Panel 5
panel(887, 111, [-0.19, 0.19], yTicksRes, 0.02, [
  Plot.ruleY([0], {stroke: BLACK, strokeWidth: 1.2}),
  ...errMarks(residB, BLACK, {r: 4.2, bar: "#222"}),
  lbl(annotations[7], 5252, -0.119, "#111", 26)
]);

// Panel 6
panel(998, 112, [-0.19, 0.19], yTicksRes, 0.02, [
  Plot.ruleY([0], {stroke: RED, strokeWidth: 1.2}),
  ...errMarks(residA, RED, {r: 4.2}),
  lbl(annotations[8], 5252, -0.117, RED, 26)
]);

// Panel 7 (with x tick labels)
panel(1110, 111, [-0.19, 0.19], yTicksRes, 0.02, [
  Plot.ruleY([0], {stroke: GREEN, strokeWidth: 1.2}),
  ...errMarks(residC, GREEN, {r: 4.2}),
  lbl(annotations[9], 5252, -0.116, GREEN, 26),
  Plot.text(xMajorTicks, {x: d => d, text: d => String(d), frameAnchor: "bottom", dy: 28, fontSize: 25, fontFamily: FONT, fill: "#111"})
], 60);

// Axis titles
const yt = document.createElement("div");
yt.className = "title";
yt.textContent = "magnitudes (relative units)";
yt.style.cssText += "font-size:36px;left:61px;top:722px;transform:translate(-50%,-50%) rotate(-90deg);letter-spacing:3px;";
fig.appendChild(yt);
const xt = document.createElement("div");
xt.className = "title";
xt.textContent = "HJD \u2212 2450000 (days)";
xt.style.cssText += "font-size:36px;left:669px;top:1318px;transform:translate(-50%,-50%);letter-spacing:2.5px;";
fig.appendChild(xt);
</script></body></html>
